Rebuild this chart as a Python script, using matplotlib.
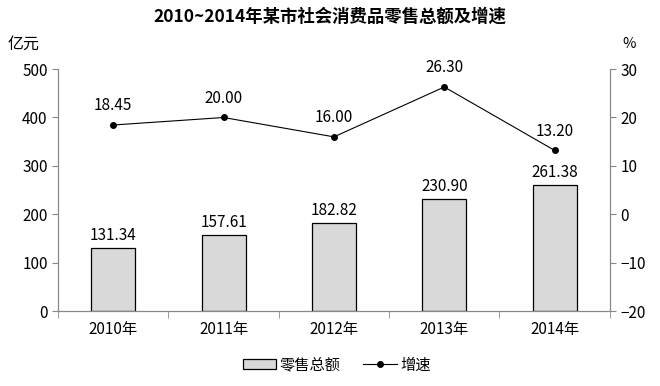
import numpy as np
import matplotlib
matplotlib.use('Agg')
import matplotlib.pyplot as plt

plt.rcParams['font.family'] = ['Noto Sans CJK SC', 'DejaVu Sans']

years = ['2010年', '2011年', '2012年', '2013年', '2014年']
sales = [131.34, 157.61, 182.82, 230.90, 261.38]
growth = [18.45, 20.00, 16.00, 26.30, 13.20]

fig = plt.figure(figsize=(6.6, 3.86), dpi=100)
ax = fig.add_axes([0.088, 0.194, 0.836, 0.627])
ax2 = ax.twinx()

x = np.arange(len(years))
ax.bar(x, sales, width=0.4, color='#d9d9d9', edgecolor='black', linewidth=0.9, label='零售总额', zorder=2)
for xi, v in zip(x, sales):
    ax.text(xi, v + 8, '%.2f' % v, ha='center', va='bottom', fontsize=11)

ax2.plot(x, growth, '-', color='black', linewidth=0.8, marker='o', markersize=4, label='增速')
for xi, v in zip(x, growth):
    ax2.text(xi, v + 2.2, '%.2f' % v, ha='center', va='bottom', fontsize=11)

ax.set_xlim(-0.5, 4.5)
ax.set_ylim(0, 500)
ax.set_yticks(range(0, 501, 100))
ax2.set_ylim(-20, 30)
ax2.set_yticks(range(-20, 31, 10))
ax.set_xticks(x)
ax.set_xticklabels(years, fontsize=11)
ax.set_xticks(np.arange(-0.5, 5, 1), minor=True)
ax.tick_params(axis='x', which='major', length=0, pad=7)
ax.tick_params(axis='x', which='minor', length=5, color='#888888', direction='out')
ax.tick_params(axis='y', labelsize=11, length=4, color='#888888', direction='out')
ax2.tick_params(axis='y', labelsize=11, length=4, color='#888888', direction='out')

for a in (ax, ax2):
    a.spines['top'].set_visible(False)
    for s in ('left', 'right', 'bottom'):
        a.spines[s].set_color('#888888')

fig.text(0.5, 0.958, '2010~2014年某市社会消费品零售总额及增速', ha='center', va='center', fontsize=12.5, fontweight='bold')
fig.text(0.012, 0.885, '亿元', ha='left', va='center', fontsize=11.5)
fig.text(0.953, 0.885, '%', ha='center', va='center', fontsize=10.5)

h1, l1 = ax.get_legend_handles_labels()
h2, l2 = ax2.get_legend_handles_labels()
fig.legend(h1 + h2, l1 + l2, loc='center', bbox_to_anchor=(0.51, 0.055), ncol=2, frameon=False,
           fontsize=11, handlelength=2.2, handleheight=0.6, columnspacing=1.5, handletextpad=0.2)

plt.savefig('out.png', dpi=100)
